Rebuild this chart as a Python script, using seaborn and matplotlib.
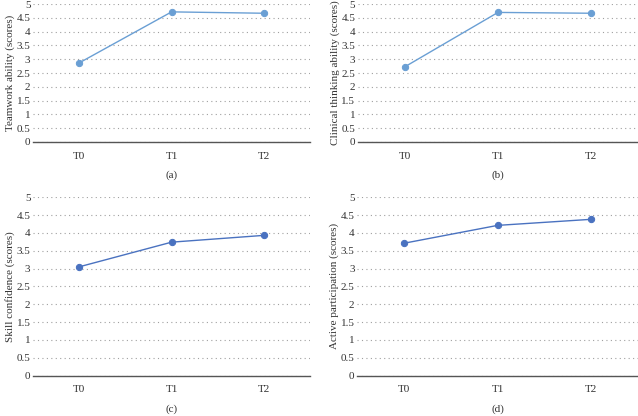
import matplotlib
matplotlib.use('Agg')
import matplotlib.pyplot as plt
import numpy as np
import pandas as pd
import seaborn as sns

# Time points and mean scores
time_points = ['T0', 'T1', 'T2']
teamwork = [2.87, 4.72, 4.67]
clinical_thinking = [2.72, 4.70, 4.67]
skill_confidence = [3.05, 3.74, 3.93]
active_participation = [3.71, 4.21, 4.38]

panel_labels = ['(a)', '(b)', '(c)', '(d)']
y_labels = ['Teamwork ability (scores)', 'Clinical thinking ability (scores)',
            'Skill confidence (scores)', 'Active participation (scores)']
y_ticks = [0, 0.5, 1, 1.5, 2, 2.5, 3, 3.5, 4, 4.5, 5]
y_tick_labels = ['0', '0.5', '1', '1.5', '2', '2.5', '3', '3.5', '4', '4.5', '5']

sns.set_style('white')
plt.rcParams['font.family'] = ['Liberation Serif', 'DejaVu Serif']

fig = plt.figure(figsize=(6.38, 4.16), dpi=100)

# [left, bottom, width, height] for each panel
positions = [
    [0.052, 0.659, 0.434, 0.331],
    [0.561, 0.659, 0.439, 0.331],
    [0.052, 0.097, 0.434, 0.429],
    [0.560, 0.097, 0.440, 0.429],
]
colors = ['#6a9fd4', '#6a9fd4', '#4a72c0', '#4a72c0']
series = [teamwork, clinical_thinking, skill_confidence, active_participation]

for i in range(4):
    ax = fig.add_axes(positions[i])
    df = pd.DataFrame({'time': time_points, 'score': series[i]})
    sns.pointplot(data=df, x='time', y='score', ax=ax, color=colors[i],
                  markers='o', markersize=4.5, linewidth=1.0)
    ax.set_xlim(-0.5, 2.5)
    ax.set_ylim(0, 5)
    ax.set_yticks(y_ticks)
    ax.set_yticklabels(y_tick_labels)
    ax.yaxis.grid(True, linestyle=(0, (1, 3)), color='#a0a0a0', linewidth=0.8)
    ax.xaxis.grid(False)
    ax.set_axisbelow(True)
    for side in ['top', 'right', 'left']:
        ax.spines[side].set_visible(False)
    ax.spines['bottom'].set_color('#555555')
    ax.spines['bottom'].set_linewidth(1.0)
    ax.tick_params(axis='both', length=0, labelsize=8, colors='#333333', pad=2)
    ax.tick_params(axis='x', pad=7)
    ax.set_xlabel(panel_labels[i], fontsize=8, color='#333333', labelpad=7)
    ax.set_ylabel(y_labels[i], fontsize=8, color='#333333', labelpad=1)

plt.savefig('out.png', dpi=100)
